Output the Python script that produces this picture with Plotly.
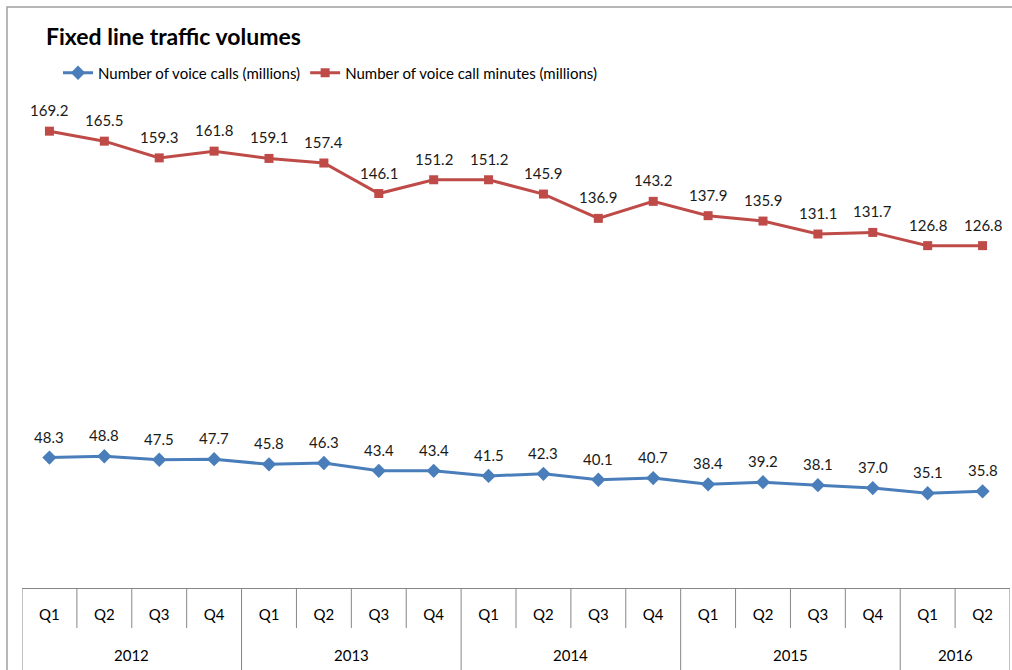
import plotly.graph_objects as go

quarters = ["Q1", "Q2", "Q3", "Q4"] * 4 + ["Q1", "Q2"]
years = ["2012", "2013", "2014", "2015", "2016"]
quarters_per_year = [4, 4, 4, 4, 2]

voice_calls = [48.3, 48.8, 47.5, 47.7, 45.8, 46.3, 43.4, 43.4, 41.5, 42.3,
               40.1, 40.7, 38.4, 39.2, 38.1, 37.0, 35.1, 35.8]
call_minutes = [169.2, 165.5, 159.3, 161.8, 159.1, 157.4, 146.1, 151.2, 151.2,
                145.9, 136.9, 143.2, 137.9, 135.9, 131.1, 131.7, 126.8, 126.8]

FONT = "Lato"
AXIS_GREY = "#868686"
BLUE = "#4A7EBB"
RED = "#BE4B48"
FS = 15

x = list(range(len(quarters)))

fig = go.Figure()
fig.add_trace(go.Scatter(
    x=x, y=voice_calls, name="Number of voice calls (millions)",
    mode="lines+markers",
    line=dict(color=BLUE, width=3),
    marker=dict(symbol="diamond", size=11, color=BLUE),
))
fig.add_trace(go.Scatter(
    x=x, y=call_minutes, name="Number of voice call minutes (millions)",
    mode="lines+markers",
    line=dict(color=RED, width=3),
    marker=dict(symbol="square", size=9, color=RED),
))

shapes = []
# outer chart border
shapes.append(dict(type="rect", xref="paper", yref="paper",
                   x0=-0.0152, x1=1.2, y0=-0.5, y1=1.1955,
                   line=dict(color="#A0A0A0", width=1.5), layer="below"))

# category dividers below the axis line
year_bounds = [-0.5]
for n in quarters_per_year:
    year_bounds.append(year_bounds[-1] + n)
for k in range(len(quarters) + 1):
    b = k - 0.5
    long_line = b in year_bounds
    shapes.append(dict(type="line", xref="x", yref="paper",
                       x0=b, x1=b, y0=0, y1=-0.2 if long_line else -0.0823,
                       line=dict(color=AXIS_GREY, width=1)))

annotations = [dict(text="<b>Fixed line traffic volumes</b>", xref="paper", yref="paper",
                    x=(44 - 22) / 988, y=(588 - 36) / 486, xanchor="left", yanchor="middle",
                    showarrow=False, font=dict(family=FONT, size=23, color="#000000"))]
for i, yr in enumerate(years):
    centre = (year_bounds[i] + year_bounds[i + 1]) / 2
    annotations.append(dict(text=yr, xref="x", yref="paper", x=centre,
                            y=(588 - 655) / 486, yanchor="middle", showarrow=False,
                            font=dict(family=FONT, size=FS, color="#000000")))

# value labels above each point
for series in (voice_calls, call_minutes):
    for xi, v in zip(x, series):
        annotations.append(dict(text=f"{v:.1f}", x=xi, y=v, xref="x", yref="y",
                                yshift=21, yanchor="middle", showarrow=False,
                                font=dict(family=FONT, size=FS, color="#1a1a1a")))

fig.update_layout(
    width=1012, height=670,
    margin=dict(l=22, r=2, t=102, b=82),
    paper_bgcolor="white", plot_bgcolor="white",
    font=dict(family=FONT, size=FS, color="#000000"),
    showlegend=True,
    legend=dict(orientation="h", x=(58 - 22) / 988, y=(588 - 73) / 486,
                xanchor="left", yanchor="middle", font=dict(family=FONT, size=FS),
                itemwidth=30, tracegroupgap=0, bgcolor="rgba(0,0,0,0)"),
    xaxis=dict(range=[-0.5, len(quarters) - 0.5], tickmode="array", tickvals=x,
               ticktext=quarters, showgrid=False, zeroline=False,
               showline=True, linecolor=AXIS_GREY, linewidth=1, ticks="",
               ticklabelstandoff=13, tickfont=dict(family=FONT, size=FS)),
    yaxis=dict(range=[0, 180], visible=False, showgrid=False, zeroline=False),
    shapes=shapes,
    annotations=annotations,
)

fig.write_html("out.html")
